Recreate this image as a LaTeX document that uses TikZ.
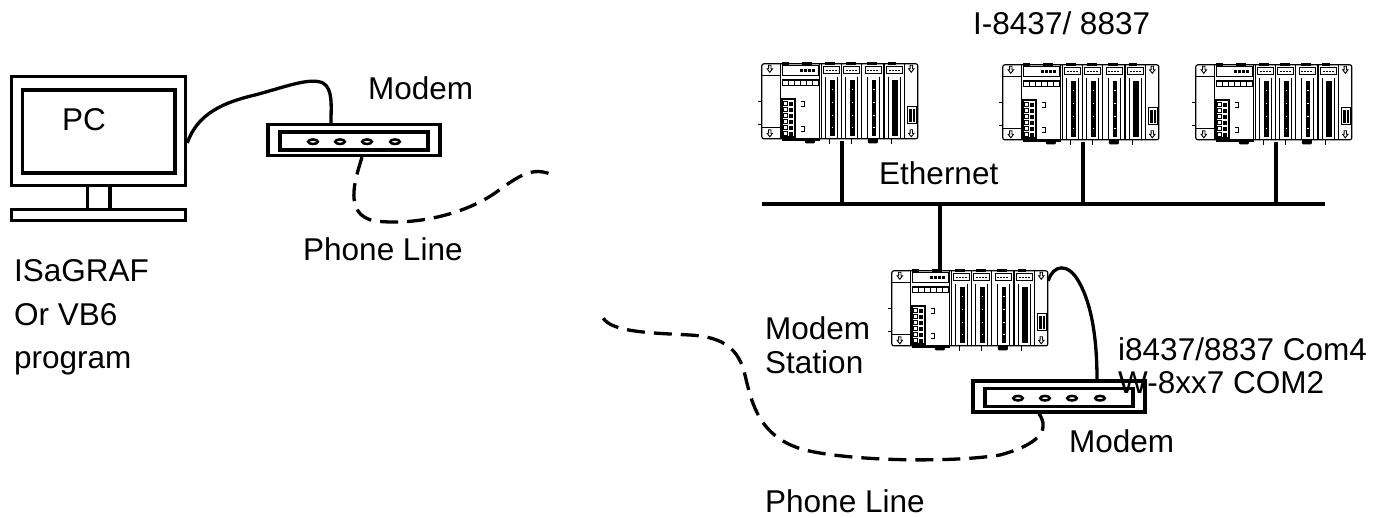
\documentclass[tikz,border=0pt]{standalone}
\usepackage{fontspec}
\setmainfont{Liberation Sans}
\begin{document}
\begin{tikzpicture}[x=1pt,y=-1pt,
  lbl/.style={anchor=base west, inner sep=0pt, font=\fontsize{31.5}{37}\selectfont},
  heavy/.style={line width=3.3pt},
  monitor/.style={draw, heavy, minimum width=174pt, minimum height=108.6pt, inner sep=0pt},
  modembox/.style={draw, heavy, minimum width=172pt, minimum height=31pt, inner sep=0pt},
  rackbox/.style={minimum width=156pt, minimum height=79pt, inner sep=0pt},
  phone/.style={heavy, dash pattern=on 18pt off 9pt},
  cable/.style={heavy},
  modemface/.pic={
    \draw[heavy] (-74,-8) rectangle (74,10);
    \foreach \u in {-41,-14,13,41}
      \draw[line width=2.5pt] (\u,1.7) ellipse [x radius=4.8, y radius=2.3];
  },
  hollowarrow/.pic={
    \draw[line width=0.9pt] (-1.2,0.5) -- (1.2,0.5) -- (1.2,4) -- (2.7,4) -- (0,7.5)
      -- (-2.7,4) -- (-1.2,4) -- cycle;
  },
  rack/.pic={
    \begin{scope}[line width=1.15pt]
      % housing
      \draw[rounded corners=2pt] (0,2) rectangle (156,77);
      % bus connectors on top, feet below
      \foreach \a/\b in {20/27,40/50,63/73,84/94,105/115,126/134}
        \fill (\a,0.2) rectangle (\b,2.8);
      \fill (20,76.5) rectangle (58,79);
      \foreach \a/\b in {43/53,106/116}
        \fill[rounded corners=1pt] (\a,76.5) rectangle (\b,81.5);
      \foreach \a in {68,90,130} \draw (\a,77) -- (\a,82);
      \draw (-4,40) -- (0,40) (-4,63) -- (0,63);
      % left end plate
      \draw (18.5,2) -- (18.5,77);
      \draw (0,14) -- (18.5,14) (0,66) -- (18.5,66);
      \pic at (8,3) {hollowarrow};
      \pic at (8,67.5) {hollowarrow};
      % CPU module
      \draw (20.5,3.5) rectangle (56.5,13.5);
      \foreach \x in {38.5,42.5,46.5,50.5}
        \fill (\x,7) rectangle (\x+3,10.5);
      \draw (20.5,17.5) rectangle (56.5,24);
      \fill (20.5,17) rectangle (56.5,19.5);
      \foreach \x in {26.5,32.5,38.5,44.5,50.5} \draw (\x,17.5) -- (\x,24);
      \draw[line width=1.8pt] (20,37.5) rectangle (33,75.5);
      \foreach \y in {40,46,52,58,64,70} {
        \draw[line width=0.9pt] (22,\y) rectangle (26,\y+4);
        \fill (27,\y) rectangle (31,\y+4);
      }
      \draw (39.5,40) -- (42.5,40) -- (42.5,44.5) -- (39.5,44.5);
      \draw (39.5,65) -- (42.5,65) -- (42.5,69.5) -- (39.5,69.5);
      \draw (58,2) -- (58,77) (60,2) -- (60,77);
      % I/O modules
      \foreach \x in {60,80,101.5} {
        \draw (\x+20,2) -- (\x+20,77);
        \draw (\x+2,5) rectangle (\x+18,12);
        \draw[line width=0.9pt, dash pattern=on 2pt off 1pt] (\x+4,8.5) -- (\x+16,8.5);
        \draw (\x+4,15) -- (\x+4,76) (\x+16,15) -- (\x+16,76);
        \fill (\x+8.3,18) rectangle (\x+12.7,74);
        \foreach \y in {27,40,53,65}
          \fill[white] (\x+9.8,\y) rectangle (\x+11.2,\y+1.6);
      }
      \draw (123,2) -- (123,77) (143,2) -- (143,77);
      \draw (125,5) rectangle (141,12);
      \draw[line width=0.9pt, dash pattern=on 2pt off 1pt] (127,8.5) -- (139,8.5);
      \draw (127,15) -- (127,76) (139,15) -- (139,76);
      \fill (130.5,18) rectangle (136.5,74);
      % right end plate
      \pic at (149.5,3) {hollowarrow};
      \pic at (149.5,67.5) {hollowarrow};
      \draw (146,45) rectangle (154.5,61.5);
      \fill (147.5,47) rectangle (153,60);
      \draw[white, line width=0.6pt] (150.2,47) -- (150.2,60);
    \end{scope}
  },
]
\useasboundingbox (0,0) rectangle (1386,518);

% ---------- PC ----------
\node[monitor] (pc) at (98.7,131) {};
\draw[heavy] (22.7,90) rectangle (175,173);
\draw[heavy] (87.7,185.3) rectangle (110,209.2);
\draw[heavy] (11.7,209.2) rectangle (185.7,220.8);
\node[lbl] (pclbl) at (62,131) {PC};

% ---------- modems ----------
\node[modembox] (mA) at (354,140) {};
\pic at (mA.center) {modemface};
\node[modembox] (mB) at (1059,396.5) {};
\pic at (mB.center) {modemface};

% ---------- controllers ----------
\node[rackbox] (r1) at (840,101.5) {};
\pic at (r1.north west) {rack};
\node[rackbox] (r2) at (1081,102.5) {};
\pic at (r2.north west) {rack};
\node[rackbox] (r3) at (1274,102.5) {};
\pic at (r3.north west) {rack};
\node[rackbox] (st) at (970,308.5) {};
\pic at (st.north west) {rack};

% ---------- Ethernet ----------
\coordinate (ethW) at (762,204);
\coordinate (ethE) at (1325,204);
\draw[heavy] (ethW) -- (ethE);
\foreach \r in {r1,r2,r3}
  \draw[heavy] ([xshift=2pt]\r.south) -- ([xshift=2pt]\r.south |- ethW);
\draw[heavy] ([xshift=-30pt]st.north) -- ([xshift=-30pt]st.north |- ethW);

% ---------- serial cables ----------
\draw[cable] ([yshift=-12pt]pc.east) .. controls +(10,-30) and (225,102) .. (255,95)
  .. controls (285,87) and (310,77) .. (323,83)
  .. controls (333,89) and (331,105) .. ([xshift=-23pt]mA.north);
\draw[cable] ([yshift=-12pt]st.north east) .. controls +(5,-16) and (1068,262) .. (1079,282)
  .. controls (1092,305) and (1097,340) .. ([xshift=38pt]mB.north);

% ---------- phone lines ----------
\coordinate (pl1end) at (550,174);
\coordinate (pl2end) at (603,318);
\draw[phone] ([xshift=8pt]mA.south) .. controls (355,180) and (343,215) .. (375,221)
  .. controls (420,226) and (468,212) .. (495,193)
  .. controls (515,179) and (530,166) .. (pl1end);
\draw[phone] ([xshift=-20pt]mB.south) .. controls (1047,425) and (1048,442) .. (1000,455)
  .. controls (950,463) and (850,461) .. (805,450)
  .. controls (760,438) and (752,405) .. (745,375)
  .. controls (739,350) and (725,337) .. (690,335)
  .. controls (650,333) and (612,332) .. (pl2end);

% ---------- labels ----------
\node[lbl] (tModemA) at (368,100) {Modem};
\node[lbl] (tIsa) at (14,282) {ISaGRAF};
\node[lbl] (tOr) at (14,326) {Or VB6};
\node[lbl] (tProg) at (14,368) {program};
\node[lbl] (tPhoneA) at (303,261) {Phone Line};
\node[lbl] (tIo) at (973,35) {I-8437/ 8837};
\node[lbl] (tEth) at (879,185) {Ethernet};
\node[lbl] (tSt1) at (765,340) {Modem};
\node[lbl] (tSt2) at (765,373) {Station};
\node[lbl] (tCom1) at (1118,360) {i8437/8837 Com4};
\node[lbl] (tCom2) at (1118,393) {W-8xx7 COM2};
\node[lbl] (tModemB) at (1069,452) {Modem};
\node[lbl] (tPhoneB) at (765,512) {Phone Line};
\end{tikzpicture}
\end{document}
